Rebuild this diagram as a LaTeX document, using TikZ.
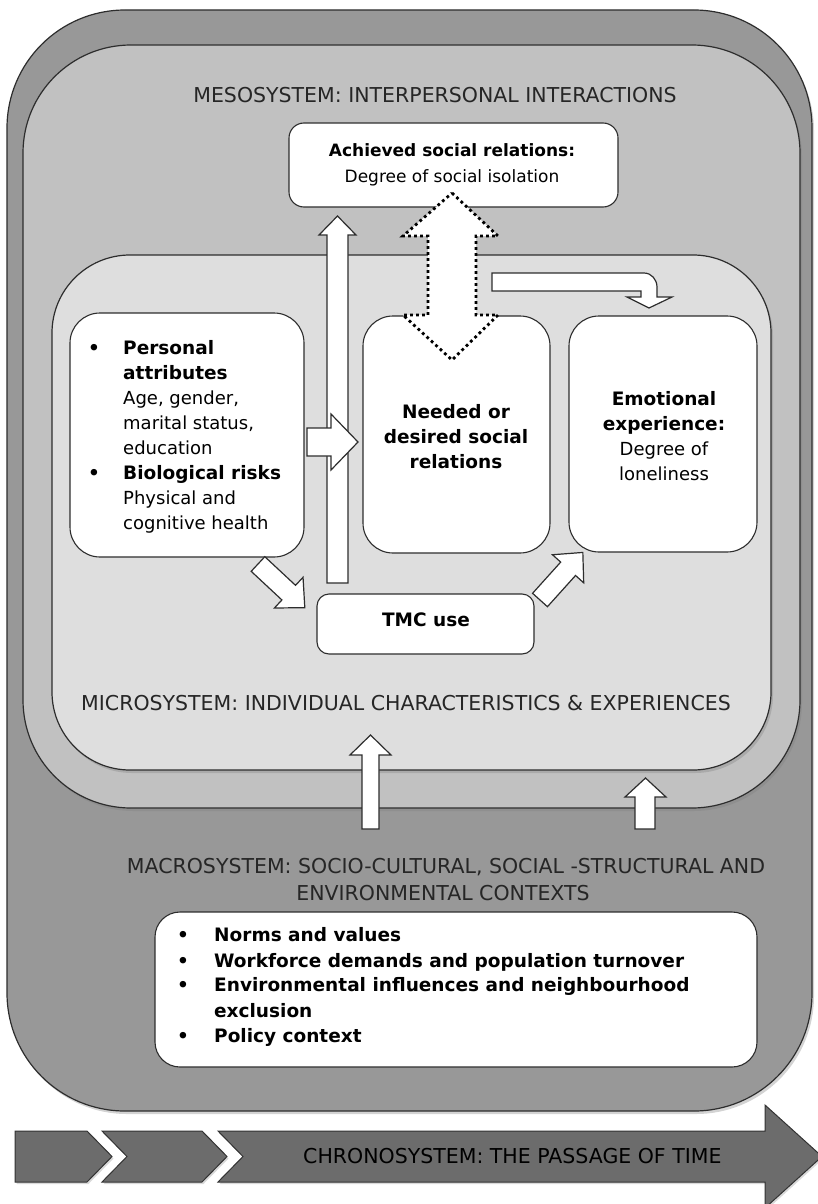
\documentclass[tikz,border=0pt]{standalone}
\usepackage{fontspec}
\setmainfont{DejaVu Sans}
\usetikzlibrary{shadows}
\definecolor{outerc}{RGB}{152,152,152}
\definecolor{mesoc}{RGB}{193,193,193}
\definecolor{microc}{RGB}{222,222,222}
\definecolor{chronoc}{RGB}{108,108,108}
\definecolor{linec}{RGB}{45,45,45}
\tikzset{
 region/.style={draw=linec, line width=1.2pt, inner sep=0pt, outer sep=0pt, drop shadow={shadow xshift=2pt, shadow yshift=-3pt, opacity=0.35}},
 wbox/.style={draw=linec, fill=white, line width=1.1pt, inner sep=0pt, outer sep=0pt},
 blockarrow/.style={draw=linec, fill=white, line width=1.2pt, line join=miter},
 dotarrow/.style={draw=black, fill=white, line width=2.8pt, dash pattern=on 2.8pt off 3.2pt},
 heading/.style={font=\fontsize{20.5}{24}\selectfont, text=black!85, inner sep=0pt},
 bt/.style={font=\fontsize{18.5}{22}\selectfont\bfseries, inner sep=0pt},
 rt/.style={font=\fontsize{18}{22}\selectfont, inner sep=0pt},
 st/.style={font=\fontsize{17}{22}\selectfont, inner sep=0pt},
 chrono/.style={draw=black!80, fill=chronoc, line width=1pt, line join=miter, drop shadow={shadow xshift=1.5pt, shadow yshift=-2pt, opacity=0.3}},
}
\begin{document}
\begin{tikzpicture}[x=1pt,y=-1pt]
\useasboundingbox (0,0) rectangle (817,1204);
% regions
\node[region, fill=outerc, rounded corners=118pt, minimum width=805pt, minimum height=1101pt] (outer) at (409.5,560.5) {};
\node[region, fill=mesoc, rounded corners=108pt, minimum width=777pt, minimum height=763pt] (meso) at (411.5,426.5) {};
\node[region, fill=microc, rounded corners=78pt, minimum width=719pt, minimum height=515pt] (micro) at (411.5,512.5) {};
% white boxes
\node[wbox, rounded corners=15pt, minimum width=329pt, minimum height=84pt] (achieved) at (453.5,165) {};
\node[wbox, rounded corners=30pt, minimum width=234pt, minimum height=244pt] (personal) at (187,435) {};
\node[wbox, rounded corners=30pt, minimum width=187pt, minimum height=237pt] (needed) at (456.5,434.5) {};
\node[wbox, rounded corners=30pt, minimum width=188pt, minimum height=236pt] (emotional) at (663,434) {};
\node[wbox, rounded corners=12pt, minimum width=217pt, minimum height=60pt] (tmc) at (425.5,624) {};
% vertical arrow TMC -> achieved
\draw[blockarrow] (327,583) -- (327,235) -- (319,235) -- (337.5,216) -- (356,235) -- (348,235) -- (348,583) -- cycle;
% personal -> needed
\draw[blockarrow] (307,428) -- (331,428) -- (331,414) -- (358,442) -- (331,470) -- (331,456) -- (307,456) -- cycle;
% personal -> TMC
\begin{scope}[shift={(258,564)}, rotate=-43]
\draw[blockarrow] (0,-10) -- (42,-10) -- (42,-21) -- (64,0) -- (42,21) -- (42,10) -- (0,10) -- cycle;
\end{scope}
% TMC -> emotional
\begin{scope}[shift={(540,600)}, rotate=48]
\draw[blockarrow] (0,-10) -- (42,-10) -- (42,-21) -- (64,0) -- (42,21) -- (42,10) -- (0,10) -- cycle;
\end{scope}
% bent arrow
\draw[blockarrow] (492,273) -- (644,273) to[out=0,in=90] (657,287) -- (657,297) -- (672,297) -- (649,308) -- (627,297) -- (641,297) -- (641,291) -- (492,291) -- cycle;
% dotted double arrow
\draw[dotarrow] (452,193) -- (498,236) -- (476,236) -- (476,315) -- (498,315) -- (452,360) -- (403,315) -- (428,315) -- (428,236) -- (403,236) -- cycle;
% upward arrows from macrosystem
\draw[blockarrow] (362,829) -- (362,755) -- (350,755) -- (370.5,735) -- (391,755) -- (379,755) -- (379,829) -- cycle;
\draw[blockarrow] (635,829) -- (635,797) -- (625,797) -- (645.5,778) -- (666,797) -- (655,797) -- (655,829) -- cycle;
% macro list box
\node[wbox, rounded corners=25pt, minimum width=602pt, minimum height=155pt] (macrolist) at (456,989.5) {};
% headings
\node[heading, anchor=base] (tmeso) at (435,103) {MESOSYSTEM: INTERPERSONAL INTERACTIONS};
\node[heading, anchor=base] (tmicro) at (406,710) {MICROSYSTEM: INDIVIDUAL CHARACTERISTICS \& EXPERIENCES};
\node[heading, anchor=base] (tmacroa) at (446,873) {MACROSYSTEM: SOCIO-CULTURAL, SOCIAL -STRUCTURAL AND};
\node[heading, anchor=base] (tmacrob) at (443,900) {ENVIRONMENTAL CONTEXTS};
% achieved text
\node[bt, font=\fontsize{17}{22}\selectfont\bfseries, anchor=base] (ta1) at (452,156) {Achieved social relations:};
\node[st, anchor=base] (ta2) at (452,182) {Degree of social isolation};
% personal text
\node[bt, anchor=base] (pb1) at (94,354) {•};
\node[bt, anchor=base west] (p1) at (123,354) {Personal};
\node[bt, anchor=base west] (p2) at (123,379) {attributes};
\node[rt, anchor=base west] (p3) at (123,404) {Age, gender,};
\node[rt, anchor=base west] (p4) at (123,429) {marital status,};
\node[rt, anchor=base west] (p5) at (123,454) {education};
\node[bt, anchor=base] (pb2) at (94,479) {•};
\node[bt, anchor=base west] (p6) at (123,479) {Biological risks};
\node[rt, anchor=base west] (p7) at (123,504) {Physical and};
\node[rt, anchor=base west] (p8) at (123,529) {cognitive health};
% needed text
\node[bt, anchor=base] (n1) at (456,418) {Needed or};
\node[bt, anchor=base] (n2) at (456,443) {desired social};
\node[bt, anchor=base] (n3) at (456,468) {relations};
% emotional text
\node[bt, anchor=base] (e1) at (664,405) {Emotional};
\node[bt, anchor=base] (e2) at (664,430) {experience:};
\node[rt, anchor=base] (e3) at (664,455) {Degree of};
\node[rt, anchor=base] (e4) at (664,480) {loneliness};
% TMC text
\node[bt, anchor=base] (tt) at (426,626) {TMC use};
% macro list text
\node[bt, anchor=base] (mb1) at (183,941) {•};
\node[bt, anchor=base west] (m1) at (214,941) {Norms and values};
\node[bt, anchor=base] (mb2) at (183,967) {•};
\node[bt, anchor=base west] (m2) at (214,967) {Workforce demands and population turnover};
\node[bt, anchor=base] (mb3) at (183,991) {•};
\node[bt, anchor=base west] (m3) at (214,991) {Environmental influences and neighbourhood};
\node[bt, anchor=base west] (m4) at (214,1017) {exclusion};
\node[bt, anchor=base] (mb5) at (183,1042) {•};
\node[bt, anchor=base west] (m5) at (214,1042) {Policy context};
% chronosystem
\draw[chrono] (15,1131) -- (87,1131) -- (112,1156.5) -- (87,1182) -- (15,1182) -- cycle;
\draw[chrono] (102,1131) -- (202,1131) -- (227,1156.5) -- (202,1182) -- (102,1182) -- (127,1156.5) -- cycle;
\draw[chrono] (218,1131) -- (765,1131) -- (765,1105) -- (822,1156.5) -- (765,1208) -- (765,1182) -- (218,1182) -- (243,1156.5) -- cycle;
\node[heading, anchor=base west, text=black] (tchrono) at (303,1163) {CHRONOSYSTEM: THE PASSAGE OF TIME};
\end{tikzpicture}
\end{document}
